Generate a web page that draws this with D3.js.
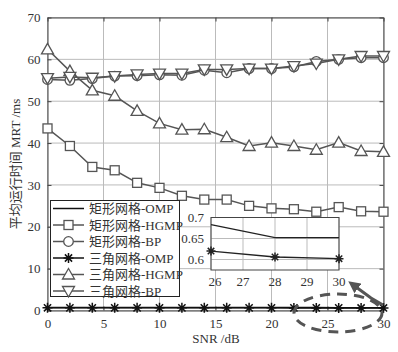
<!DOCTYPE html>
<html>
<head>
<meta charset="utf-8">
<script src="https://cdn.jsdelivr.net/npm/d3@7"></script>
<style>
  body { margin: 0; background: white; }
  text { font-family: "Liberation Serif", "Noto Sans CJK SC", serif; fill: #333; }
</style>
</head>
<body>
<div id="Canvas"></div>
<script>
// 数据
const snr = [0,2,4,6,8,10,12,14,16,18,20,22,24,26,28,30]
const rectOMP  = [0.72,0.71,0.71,0.70,0.70,0.70,0.69,0.69,0.69,0.69,0.69,0.69,0.69,0.683,0.652,0.652]
const rectHGMP = [43.5,39.3,34.3,33.5,30.5,29.3,27.4,26.5,26.5,25.0,24.4,24.2,23.6,24.7,23.7,23.6]
const rectBP   = [55.2,55.0,55.4,56.0,56.1,56.3,56.2,57.4,56.8,57.8,57.8,58.2,59.5,60.0,60.4,60.4]
const triOMP   = [0.65,0.64,0.64,0.64,0.64,0.63,0.63,0.63,0.63,0.63,0.63,0.62,0.62,0.62,0.606,0.602]
const triHGMP  = [62.4,57.2,52.6,51.3,47.7,44.7,43.2,43.3,41.4,39.3,40.1,39.3,38.4,40.1,38.1,37.9]
const triBP    = [55.5,55.8,55.6,56.0,56.4,56.6,56.6,57.6,57.6,57.8,57.8,58.4,59.0,60.0,60.8,60.8]
const xTicks = [0,5,10,15,20,25,30]
const yTicks = [0,10,20,30,40,50,60,70]
const insetX = [26,27,28,29,30]
const insetY = [0.6,0.65,0.7]

const series = [
  {name:"矩形网格-OMP",  vals:rectOMP,  marker:"none",   color:"#111"},
  {name:"矩形网格-HGMP", vals:rectHGMP, marker:"square", color:"#555"},
  {name:"矩形网格-BP",   vals:rectBP,   marker:"circle", color:"#555"},
  {name:"三角网格-OMP",  vals:triOMP,   marker:"star",   color:"#111"},
  {name:"三角网格-HGMP", vals:triHGMP,  marker:"tri",    color:"#555"},
  {name:"三角网格-BP",   vals:triBP,    marker:"tridown",color:"#555"}
]

let svg = d3.select("#Canvas").append("svg")
  .attr("width", 398).attr("height", 352)
  .style("background", "white")

let X = d3.scaleLinear().domain([0,30]).range([47.5,383.5])
let Y = d3.scaleLinear().domain([0,70]).range([310.5,17.5])

// 网格
svg.append("g").selectAll("line").data(xTicks).enter().append("line")
  .attr("x1", d=>X(d)).attr("x2", d=>X(d)).attr("y1", Y(0)).attr("y2", Y(70))
  .style("stroke","#bbb").style("stroke-width",1)
svg.append("g").selectAll("line").data(yTicks).enter().append("line")
  .attr("x1", X(0)).attr("x2", X(30)).attr("y1", d=>Y(d)).attr("y2", d=>Y(d))
  .style("stroke","#bbb").style("stroke-width",1)

// 坐标轴
let xAxis = svg.append("g").attr("transform","translate(0,310.5)")
  .call(d3.axisBottom(X).tickValues(xTicks).tickSizeInner(-4).tickSizeOuter(0).tickPadding(8))
let yAxis = svg.append("g").attr("transform","translate(47.5,0)")
  .call(d3.axisLeft(Y).tickValues(yTicks).tickSizeInner(-4).tickSizeOuter(0).tickPadding(7))
svg.append("g").attr("transform","translate(383.5,0)")
  .call(d3.axisRight(Y).tickValues(yTicks).tickSizeInner(-4).tickSizeOuter(0).tickFormat(""))
svg.append("g").attr("transform","translate(0,17.5)")
  .call(d3.axisTop(X).tickValues(xTicks).tickSizeInner(-4).tickSizeOuter(0).tickFormat(""))
svg.selectAll(".domain").style("stroke","#444")
svg.selectAll(".tick line").style("stroke","#444")
svg.selectAll(".tick text").style("font-size","13px").style("font-family","Liberation Serif").style("fill","#333")

svg.append("text").attr("x", 216).attr("y", 343).attr("text-anchor","middle")
  .style("font-size","13px").text("SNR /dB")
svg.append("text").attr("transform","translate(20,164) rotate(-90)").attr("text-anchor","middle")
  .style("font-size","13px").text("平均运行时间 MRT /ms")

// 标记
function drawMarker(g, type, x, y, color, s){
  s = s || 1
  if(type=="square"){
    g.append("rect").attr("x",x-4.5*s).attr("y",y-4.5*s).attr("width",9*s).attr("height",9*s)
      .style("fill","white").style("stroke",color).style("stroke-width",1.3)
  }else if(type=="circle"){
    g.append("circle").attr("cx",x).attr("cy",y).attr("r",4.8*s)
      .style("fill","white").style("stroke",color).style("stroke-width",1.3)
  }else if(type=="tri"){
    g.append("path").attr("d",`M${x},${y-6*s}L${x+6*s},${y+4.5*s}L${x-6*s},${y+4.5*s}Z`)
      .style("fill","white").style("stroke",color).style("stroke-width",1.3)
  }else if(type=="tridown"){
    g.append("path").attr("d",`M${x},${y+6*s}L${x+6*s},${y-4.5*s}L${x-6*s},${y-4.5*s}Z`)
      .style("fill","white").style("stroke",color).style("stroke-width",1.3)
  }else if(type=="star"){
    let r = 5*s, q = 3.6*s
    g.append("path").attr("d",`M${x-r},${y}L${x+r},${y}M${x},${y-r}L${x},${y+r}M${x-q},${y-q}L${x+q},${y+q}M${x-q},${y+q}L${x+q},${y-q}`)
      .style("fill","none").style("stroke",color).style("stroke-width",1.5)
  }
}

let line = d3.line().x((d,i)=>X(snr[i])).y(d=>Y(d))
let plot = svg.append("g")
// 先画数值大的再画OMP
const order = [4,1,2,5,0,3]
order.forEach(function(k){
  let s = series[k]
  let g = plot.append("g")
  g.append("path").attr("d", line(s.vals)).style("fill","none")
    .style("stroke", s.color).style("stroke-width", 1.5)
  s.vals.forEach((v,i)=>drawMarker(g, s.marker, X(snr[i]), Y(v), s.color))
})

// 图例
let lg = svg.append("g")
lg.append("rect").attr("x",50.5).attr("y",200.5).attr("width",129).attr("height",96)
  .style("fill","white").style("stroke","#222").style("stroke-width",1)
series.forEach(function(s,i){
  let yy = 208.5 + i*16.5
  lg.append("line").attr("x1",53).attr("x2",84).attr("y1",yy).attr("y2",yy)
    .style("stroke",s.color).style("stroke-width",1.5)
  drawMarker(lg, s.marker, 68.5, yy, s.color)
  lg.append("text").attr("x",89).attr("y",yy+4.5).style("font-size","13px").text(s.name)
})

// 局部放大
let XI = d3.scaleLinear().domain([26,30]).range([211,339])
let YI = d3.scaleLinear().domain([0.575,0.7]).range([270,217.5])
let inset = svg.append("g")
inset.append("rect").attr("x",211).attr("y",217.5).attr("width",128).attr("height",52.5)
  .style("fill","white")
inset.append("g").selectAll("line").data(insetX).enter().append("line")
  .attr("x1",d=>XI(d)).attr("x2",d=>XI(d)).attr("y1",217.5).attr("y2",270)
  .style("stroke","#bbb")
inset.append("g").selectAll("line").data(insetY).enter().append("line")
  .attr("x1",211).attr("x2",339).attr("y1",d=>YI(d)).attr("y2",d=>YI(d))
  .style("stroke","#bbb")
inset.append("rect").attr("x",211).attr("y",217.5).attr("width",128).attr("height",52.5)
  .style("fill","none").style("stroke","#444")
inset.selectAll(".xl").data(insetX).enter().append("text")
  .attr("x",d=>XI(d)+(d==26?4:0)).attr("y",286).attr("text-anchor","middle")
  .style("font-size","13px").text(d=>d)
inset.selectAll(".yl").data(insetY).enter().append("text")
  .attr("x",204).attr("y",d=>YI(d)+4.5).attr("text-anchor","end")
  .style("font-size","13px").text(d=>d3.format("~g")(d))
const insetIdx = [13,14,15]
let li = d3.line().x(i=>XI(snr[i])).y(i=>YI(rectOMP[i]))
inset.append("path").attr("d",li(insetIdx)).style("fill","none").style("stroke","#222").style("stroke-width",1.3)
let li2 = d3.line().x(i=>XI(snr[i])).y(i=>YI(triOMP[i]))
inset.append("path").attr("d",li2(insetIdx)).style("fill","none").style("stroke","#222").style("stroke-width",1.3)
insetIdx.forEach(i=>drawMarker(inset,"star",XI(snr[i]),YI(triOMP[i]),"#222",0.9))

// 虚线椭圆与箭头
svg.append("ellipse").attr("cx",338).attr("cy",313).attr("rx",44).attr("ry",19)
  .style("fill","none").style("stroke","#555").style("stroke-width",3).style("stroke-dasharray","10,7")
svg.append("defs").append("marker").attr("id","ah").attr("viewBox","0 0 10 10")
  .attr("refX",2).attr("refY",5).attr("markerWidth",4).attr("markerHeight",4).attr("orient","auto")
  .append("path").attr("d","M0,0L10,5L0,10Z").style("fill","#555")
svg.append("path").attr("d","M383,305L371,298L356,287")
  .style("fill","none").style("stroke","#555").style("stroke-width",3).attr("marker-end","url(#ah)")
</script>
</body>
</html>
